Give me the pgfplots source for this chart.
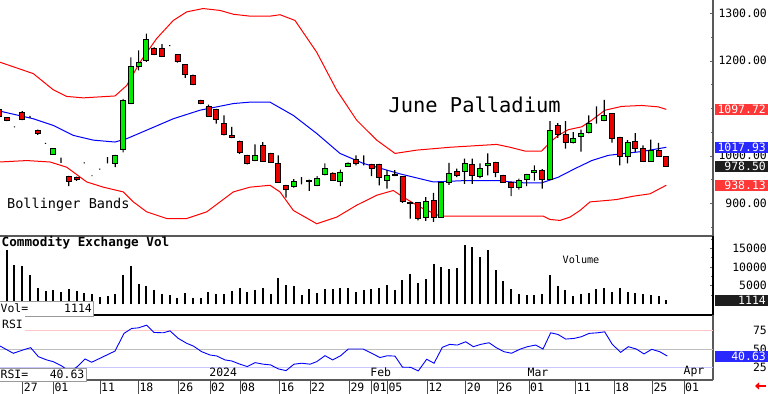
\documentclass[border=0pt]{standalone}
\usepackage{pgfplots}
\pgfplotsset{compat=1.18}
\usepackage{pgfplotstable}
\usepackage{fontspec}
\setmainfont{DejaVu Sans Mono}
\usetikzlibrary{arrows.meta}
\newcommand\fs[1]{\fontsize{#1}{#1}\selectfont}
\definecolor{candlered}{RGB}{235,0,0}
\definecolor{candlegreen}{RGB}{0,235,0}
\definecolor{bandred}{RGB}{255,0,0}
\definecolor{bandblue}{RGB}{0,0,255}
\definecolor{boxred}{RGB}{255,55,55}
\definecolor{boxblue}{RGB}{40,40,255}
\definecolor{boxblack}{RGB}{30,30,30}
\definecolor{lightred}{RGB}{255,200,200}
\definecolor{lightblue}{RGB}{200,200,255}

\pgfplotstableread{
i O H L C
-1 1097 1099 1080 1083
0 1080 1081 1073 1074
1 1061 1062 1060 1061
2 1092 1094 1075 1077
3 1084 1084 1080 1084
4 1054 1055 1044 1047
5 1026 1027 1025 1026
6 1003 1016 1002 1015
7 986 996 985 986
8 957 958 936 946
9 954 956 947 950
10 985 986 984 985
11 958 959 957 958
12 972 973 971 972
13 987 997 984 987
14 985 1002 976 1001
15 1013 1120 1007 1117
16 1110 1207 1109 1189
17 1189 1222 1180 1197
18 1200 1257 1198 1245
19 1226 1229 1212 1214
20 1226 1235 1209 1210
21 1232 1233 1231 1232
22 1213 1214 1196 1198
23 1192 1193 1164 1172
24 1170 1171 1149 1150
25 1117 1118 1109 1110
26 1103 1108 1082 1084
27 1098 1099 1068 1077
28 1068 1085 1043 1045
29 1043 1061 1037 1038
30 1031 1032 1004 1007
31 1001 1002 982 984
32 990 1024 989 1001
33 1022 1029 988 989
34 1005 1006 986 987
35 984 1001 943 945
36 938 939 912 929
37 936 951 933 946
38 950 955 940 950
39 949 950 926 947
40 937 957 936 952
41 960 984 959 973
42 964 965 947 948
43 947 971 936 966
44 978 986 977 985
45 992 1001 980 984
46 987 1001 980 987
47 982 983 957 974
48 982 983 938 955
49 948 970 931 959
50 960 970 957 958
51 956 957 901 903
52 901 903 868 899
53 901 902 864 868
54 871 913 863 903
55 906 922 861 871
56 871 946 870 945
57 945 985 939 962
58 967 973 955 958
59 968 994 941 984
60 982 994 941 958
61 957 984 953 974
62 979 1005 959 984
63 986 987 955 965
64 959 960 943 945
65 945 946 915 933
66 934 952 929 948
67 950 962 936 960
68 965 980 948 970
69 970 972 931 950
70 950 1073 949 1054
71 1064 1069 1038 1045
72 1045 1073 1015 1028
73 1029 1050 1026 1036
74 1040 1055 1009 1047
75 1049 1085 1047 1069
76 1073 1104 1068 1073
77 1075 1118 1073 1085
78 1089 1090 1028 1036
79 1038 1040 980 999
80 999 1033 984 1029
81 1031 1048 1008 1016
82 1015 1022 987 988
83 989 1034 988 1011
84 1012 1027 998 999
85 998 999 977 978.5
}\candles

\pgfplotstableread{
i p
-0.8634 1197
3.43 1173
6.0 1139
7.73 1125
9.87 1122
13.96 1126
15.46 1148
17.18 1197
19.33 1247
21.47 1285
23.2 1303
25.3 1310
27.5 1306
29.2 1298
31.35 1294
33.93 1294
35.22 1297
37.15 1285
39.95 1218
42.53 1138
45.1 1075
47.68 1033
50.04 1005
52.84 1012
57.13 1018
63.14 1024
64.86 1018
66.79 1010
68.94 1010
70.05 1029
71.08 1043
72.37 1055
74.1 1061
75.39 1075
77.1 1096
79.25 1104
81.83 1106
83.97 1103
85 1097.72
}\upperband

\pgfplotstableread{
i p
-0.8634 1094
3.43 1078
6.0 1064
8.58 1043
11.16 1033
13.96 1029
15.46 1036
18.47 1057
21.47 1078
24.91 1096
29.2 1110
31.35 1113
33.93 1113
36.94 1085
39.95 1047
42.95 1005
45.96 984
50.68 962
54.98 945
59.28 948
63.57 948
64.86 945
66.79 943
68.94 943
71.08 955
73.23 973
75.39 990
77.53 1001
79.68 1005
81.83 1009
85 1017.93
}\midband

\pgfplotstableread{
i p
-0.8634 987
2.57 990
5.58 987
7.73 976
10.31 945
12.45 934
15.03 924
16.32 903
18.04 882
20.62 868
23.2 868
25.77 882
29.2 924
31.35 934
33.93 938
35.22 924
36.94 885
39.95 857
42.53 871
45.1 896
47.68 917
49.82 927
51.11 913
53.26 892
55.84 873
64.86 873
69.16 873
70.01 866
71.3 864
72.59 871
73.88 885
75.17 903
77.32 906
78.61 908
80.75 915
82.9 920
85 938.13
}\lowerband

\pgfplotstableread{
i v
0 14440
1 10430
2 10160
3 7930
4 4460
5 3480
6 3740
7 3290
8 4190
9 3560
10 3120
11 2860
12 1950
13 2140
14 2670
15 7750
16 10160
17 5530
18 4810
19 3920
20 2860
21 2410
22 1790
23 3120
24 1790
25 1690
26 3290
27 2670
28 2670
29 3480
30 4360
31 3290
32 3740
33 4460
34 2860
35 7030
36 5080
37 4810
38 2410
39 4010
40 3120
41 4190
42 4010
43 4460
44 4460
45 3290
46 3740
47 4190
48 4460
49 5100
50 3800
51 6450
52 8250
53 5800
54 6690
55 10880
56 9890
57 9360
58 9800
59 15780
60 15420
61 12570
62 14630
63 9270
64 6230
65 4190
66 2670
67 2410
68 2410
69 2860
70 7930
71 4810
72 3740
73 2230
74 2670
75 2940
76 4010
77 4460
78 3290
79 4460
80 3290
81 2940
82 2670
83 2410
84 2230
85 1114
}\vol

\pgfplotstableread{
i r
-0.8634 54
0.85 44.3
2.36 49.6
3.09 51.8
4.08 39.8
5.15 35.4
6.0 33.1
7.08 27.4
8.1 20
9.02 25.7
10.09 36.7
10.95 32.3
12.02 37.6
13.96 47.3
15.12 70.9
16.1 77.5
16.96 78.3
18.04 81.9
18.98 72.2
20.18 71.7
21.04 74.3
22.11 64.2
23.2 57.6
24.05 54
25.13 46.4
26.2 42
27.06 40.7
28.13 35.4
29 34
30.06 29.7
31 26.5
32 31.8
33.07 29.7
34.02 28.7
35 23.4
36 21.1
37.02 29.7
38.02 31
39.09 29.7
39.95 33.1
41.02 41.1
42.01 35.4
43.04 41.1
44.02 50
45.95 50
47.04 44.3
48.1 38.6
49.05 41
50.04 40.5
51 25.7
52.06 25.5
53.04 20.7
54.12 36.3
55.07 31
56.14 52.3
57.09 56.2
58.07 55.3
59.15 59.7
60.13 53.1
61.08 56.2
62.15 58.4
63.09 51.8
64.08 46.4
65.07 44.3
66.1 49.6
67.09 53.1
68.17 55.3
69.11 50
70.1 71.7
71.04 69.5
72.04 63.3
73.11 64.2
74.05 66.4
75.05 70.9
76.12 71.7
77.06 73
78.04 56.2
79.12 45.6
80.1 53.1
81.13 50
82.13 43.4
83.12 49.6
84.15 46.4
85.13 40.63
}\rsi

\pgfplotsset{
  panel/.style={scale only axis, width=713bp, xmin=-0.8634, xmax=91.018,
    axis x line*=bottom, axis y line*=right,
    axis line style={-, draw=black!65, line width=1.2bp},
    xtick=\empty, tick align=inside, major tick length=3bp, minor tick length=2bp,
    tick style={black!60, line width=0.6bp},
    yticklabel style={font=\fs{11.5}, anchor=east, xshift=54bp, inner sep=0pt,
      /pgf/number format/assume math mode=true, /pgf/number format/1000 sep={}},
    scaled y ticks=false, clip=false},
  ov/.style={scale only axis, width=713bp, height=236bp, at={(0bp,158bp)}, anchor=south west,
    xmin=-0.8634, xmax=91.018, ymin=831.2, ymax=1328, hide axis, ybar stacked, bar shift=0pt}
}
\tikzset{valbox/.style={anchor=east, text=white, inner xsep=2bp, inner ysep=0pt,
  minimum height=11bp, text width=49bp, align=right, font=\fs{11.5}}}

\begin{document}
\begin{tikzpicture}
\path[use as bounding box] (0bp,0bp) rectangle (768bp,394bp);

% price panel
\begin{axis}[panel, at={(0bp,158bp)}, anchor=south west, height=236bp,
  ymin=831.2, ymax=1328, ytick={900,1000,1200,1300},
  minor ytick={850,950,1050,1100,1150,1250},
  yticklabel style={/pgf/number format/fixed, /pgf/number format/fixed zerofill,
    /pgf/number format/precision=2}]
\addplot[bandred, line width=1bp] table[x=i,y=p] {\upperband};
\addplot[bandblue, line width=1bp] table[x=i,y=p] {\midband};
\addplot[bandred, line width=1bp] table[x=i,y=p] {\lowerband};
\coordinate (b1) at (axis cs:91.018,1097.72);
\coordinate (b2) at (axis cs:91.018,1017.93);
\coordinate (b3) at (axis cs:91.018,978.5);
\coordinate (b4) at (axis cs:91.018,938.13);
\node[anchor=west, inner sep=0pt, font=\fs{20.5}] at (rel axis cs:0.5446,0.557) {June Palladium};
\node[anchor=west, inner sep=0pt, font=\fs{13.6}] at (rel axis cs:0.0098,0.131) {Bollinger Bands};
\end{axis}

% wicks
\begin{axis}[ov, bar width=1.2bp]
\addplot[draw=none, fill=none] table[x=i, y=L] {\candles};
\addplot[draw=none, fill=black] table[x=i, y expr={\thisrow{H}-\thisrow{L}}] {\candles};
\end{axis}

% bodies
\begin{axis}[ov, bar width=5bp]
\addplot[draw=none, fill=none] table[x=i, y expr={min(\thisrow{O},\thisrow{C})}] {\candles};
\addplot[draw=black, line width=0.8bp, fill=candlered] table[x=i, y expr={max(\thisrow{O}-\thisrow{C},0)}] {\candles};
\addplot[draw=black, line width=0.8bp, fill=candlegreen] table[x=i, y expr={max(\thisrow{C}-\thisrow{O},0)}] {\candles};
\end{axis}

% volume panel
\begin{axis}[panel, at={(0bp,79bp)}, anchor=south west, height=79bp,
  ymin=-2834, ymax=18289, ytick={5000,10000,15000},
  minor ytick={2500,7500,12500,17500},
  axis line style={-, draw=black, line width=1.5bp}]
\addplot[ycomb, black, line width=2bp] table[x=i,y=v] {\vol};
\coordinate (v1) at (axis cs:91.018,1114);
\end{axis}

% RSI panel
\begin{axis}[panel, at={(0bp,14bp)}, anchor=south west, height=65bp,
  ymin=8.55, ymax=95.5, ytick={25,50,75}]
\addplot[lightred, line width=1bp] coordinates {(-0.8634,75) (91.018,75)};
\addplot[black!25, line width=1bp] coordinates {(-0.8634,50) (91.018,50)};
\addplot[lightblue, line width=1bp] coordinates {(-0.8634,25) (91.018,25)};
\addplot[bandblue, line width=0.9bp] table[x=i,y=r] {\rsi};
\coordinate (r1) at (axis cs:91.018,40.63);
\node[font=\fs{11.5}] at (axis cs:27.9,19.3) {2024};
\node[font=\fs{11.5}] at (axis cs:48.2,19.3) {Feb};
\node[font=\fs{11.5}] at (axis cs:68.47,19.3) {Mar};
\node[font=\fs{11.5}] at (axis cs:88.57,19.3) {Apr};
\end{axis}

% date strip
\begin{axis}[scale only axis, width=713bp, height=14bp, at={(0bp,0bp)}, anchor=south west,
  xmin=-0.8634, xmax=91.018, ymin=0, ymax=1, axis line style={draw=none}, ytick=\empty,
  xtick={2.06,6.01,12.02,16.96,22.11,26.2,30.06,35.13,39.09,44.15,47.04,49.05,54.2,59.15,63.22,67.3,73.32,78.26,83.2,87.28},
  xticklabels={27,01,11,18,26,02,08,16,22,29,01,05,12,20,26,01,11,18,25,01},
  xmajorgrids, major grid style={black!70, line width=0.8bp}, xtick style={draw=none},
  xticklabel style={anchor=west, yshift=7bp, inner sep=1bp, font=\fs{11.5}}]
\end{axis}

% value boxes
\node[valbox, fill=boxred] at ([xshift=55bp]b1) {1097.72};
\node[valbox, fill=boxblue] at ([xshift=55bp]b2) {1017.93};
\node[valbox, fill=boxblack] at ([xshift=55bp]b3) {978.50};
\node[valbox, fill=boxred] at ([xshift=55bp]b4) {938.13};
\node[valbox, fill=boxblack] at ([xshift=55bp]v1) {1114};
\node[valbox, fill=boxblue] at ([xshift=55bp]r1) {40.63};

% panel labels
\node[anchor=west, inner sep=0pt, font=\bfseries\fs{12.7}] at (1.5bp,151bp) {Commodity Exchange Vol};
\node[font=\fs{10.2}] at (581bp,134bp) {Volume};
\draw[black!40, fill=white, line width=0.8bp] (-1bp,78bp) rectangle (93bp,93bp);
\node[anchor=west, inner sep=0pt, font=\fs{11.5}] at (0.5bp,86bp) {Vol=};
\node[anchor=east, inner sep=0pt, font=\fs{11.5}] at (92bp,86bp) {1114};
\node[anchor=north west, fill=white, inner xsep=2bp, inner ysep=0pt, minimum height=16bp, font=\fs{11.5}] at (0bp,78.3bp) {RSI};
\draw[black!40, fill=white, line width=0.8bp] (-1bp,13bp) rectangle (86bp,26bp);
\node[anchor=west, inner sep=0pt, font=\fs{11.5}] at (0.5bp,20bp) {RSI=};
\node[anchor=east, inner sep=0pt, font=\fs{11.5}] at (84.5bp,20bp) {40.63};
\draw[red, line width=2.2bp, -{Triangle[length=4bp,width=7bp]}] (766bp,8bp) -- (755bp,8bp);
\end{tikzpicture}
\end{document}
